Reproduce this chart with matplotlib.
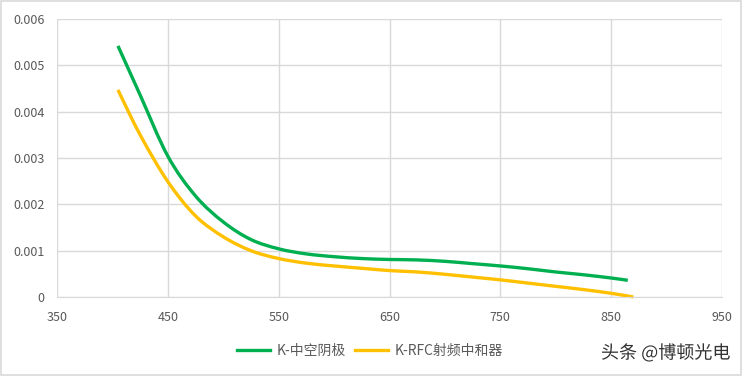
import matplotlib.pyplot as plt
import matplotlib.patheffects as pe
from matplotlib.patches import Rectangle, PathPatch
from matplotlib.path import Path
from matplotlib.lines import Line2D

plt.rcParams['font.family'] = ['Noto Sans CJK SC', 'DejaVu Sans']

# Data
x_green = [405, 425, 450, 475, 500, 525, 550, 575, 600, 625, 650, 675, 700, 725, 750, 775, 800, 825, 850, 865]
y_green = [0.00542, 0.00436, 0.00304, 0.00218, 0.00162, 0.00124, 0.00104, 0.00093, 0.00087, 0.00083,
           0.00081, 0.00080, 0.00077, 0.00072, 0.00067, 0.00061, 0.00054, 0.00048, 0.00041, 0.00036]
x_yellow = [405, 425, 450, 475, 500, 525, 550, 575, 600, 625, 650, 675, 700, 725, 750, 775, 800, 825, 850, 870]
y_yellow = [0.00447, 0.00350, 0.00249, 0.00175, 0.00130, 0.00100, 0.00083, 0.00073, 0.00067, 0.00062,
            0.00057, 0.00054, 0.00049, 0.00043, 0.00037, 0.00030, 0.00023, 0.00016, 0.00008, 0.0]
labels = ['K-中空阴极', 'K-RFC射频中和器']
x_ticks = [350, 450, 550, 650, 750, 850, 950]
y_ticks = [0, 0.001, 0.002, 0.003, 0.004, 0.005, 0.006]
y_tick_labels = ['0', '0.001', '0.002', '0.003', '0.004', '0.005', '0.006']

C_GREEN = '#00b050'
C_YELLOW = '#ffc000'
C_GRID = '#d9d9d9'
C_TEXT = '#595959'


def smooth_path(xs, ys):
    # Excel-like smoothed line: Catmull-Rom segments as cubic Beziers
    pts = list(zip(xs, ys))
    verts = [pts[0]]
    codes = [Path.MOVETO]
    n = len(pts)
    for i in range(n - 1):
        p0 = pts[i - 1] if i > 0 else pts[i]
        p1 = pts[i]
        p2 = pts[i + 1]
        p3 = pts[i + 2] if i + 2 < n else pts[i + 1]
        c1 = (p1[0] + (p2[0] - p0[0]) / 6, p1[1] + (p2[1] - p0[1]) / 6)
        c2 = (p2[0] - (p3[0] - p1[0]) / 6, p2[1] - (p3[1] - p1[1]) / 6)
        verts += [c1, c2, p2]
        codes += [Path.CURVE4] * 3
    return Path(verts, codes)


fig = plt.figure(figsize=(7.42, 3.76), dpi=100)
ax = fig.add_axes([57 / 742, 1 - 297 / 376, 665 / 742, 278 / 376])

for xs, ys, c in [(x_green, y_green, C_GREEN), (x_yellow, y_yellow, C_YELLOW)]:
    ax.add_patch(PathPatch(smooth_path(xs, ys), facecolor='none', edgecolor=c, lw=2.4,
                           capstyle='butt', joinstyle='round', clip_on=False))

ax.set_xlim(350, 950)
ax.set_ylim(0, 0.006)
ax.set_xticks(x_ticks)
ax.set_xticklabels([str(v) for v in x_ticks])
ax.set_yticks(y_ticks)
ax.set_yticklabels(y_tick_labels)
ax.grid(True, color=C_GRID, lw=1)
ax.set_axisbelow(True)
for s in ['top', 'right', 'left']:
    ax.spines[s].set_visible(False)
ax.spines['bottom'].set_color(C_GRID)
ax.tick_params(length=0, labelsize=9, colors=C_TEXT, pad=9)
ax.tick_params(axis='x', pad=10)

handles = [Line2D([0], [0], color=C_GREEN, lw=2.4), Line2D([0], [0], color=C_YELLOW, lw=2.4)]
fig.legend(handles, labels, loc='center', bbox_to_anchor=(370 / 742, 1 - 351 / 376),
           ncol=2, frameon=False, fontsize=10, labelcolor=C_TEXT, handlelength=2.4,
           columnspacing=0.6, handletextpad=0.5)

# watermark
fig.text(730 / 742, 1 - 353 / 376, '头条 @博顿光电', ha='right', va='center', fontsize=13,
         color='#333333', path_effects=[pe.withStroke(linewidth=2, foreground='white')])

# outer border
fig.patches.append(Rectangle((0.001, 0.002), 0.997, 0.995, transform=fig.transFigure,
                             fill=False, edgecolor=C_GRID, lw=1.2))

fig.savefig('out.png', dpi=100)
